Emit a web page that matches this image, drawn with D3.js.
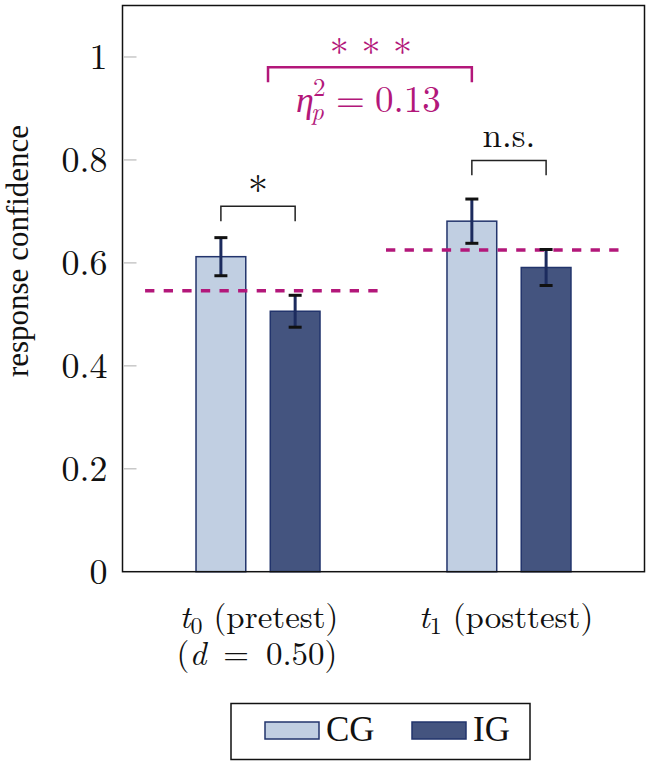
<!DOCTYPE html>
<html><head><meta charset="utf-8">
<script src="https://cdn.jsdelivr.net/npm/d3@7"></script>
<style>body{margin:0;background:#fff}svg{display:block}</style>
</head><body><svg id="c" width="650" height="766"></svg>
<script>
const groups = ["t0", "t1"];
const series = ["CG", "IG"];
const cgMeans = [0.612, 0.681];
const igMeans = [0.506, 0.591];
const cgErr = [0.037, 0.043];
const igErr = [0.031, 0.035];
const groupMeans = [0.546, 0.625];
const yTicks = [0, 0.2, 0.4, 0.6, 0.8, 1];

const colors = {CG: "#c1cfe2", IG: "#44547f"};
const strokeCol = "#22346c";
const magenta = "#b3177a";
const FF = "'Latin Modern Roman', 'CMU Serif', 'Liberation Serif', serif";
const FL = "'Liberation Serif', 'Times New Roman', serif";

const svg = d3.select("#c");
const L = 122.5, R = 644.5, T = 5.5, B = 571.7;
const y = d3.scaleLinear().domain([0, 1.1]).range([B, T]);
const x = d3.scalePoint().domain(groups).range([L, R]).padding(0.54);
const xs = d3.scaleBand().domain(series).range([-62, 62]).paddingInner(0.33);
const xNum = d3.scaleLinear().domain([0, 1]).range([x("t0"), x("t1")]);

function txt(sel, f) { return sel.append("text").style("font-family", f || FF).attr("fill", "#111"); }

// y ticks
const yAxis = d3.axisLeft(y).tickValues(yTicks).tickFormat(d => d === 0 ? "0" : d === 1 ? "1" : d3.format(".1f")(d)).tickSize(0).tickPadding(15);
const ga = svg.append("g").attr("transform", `translate(${L},0)`).call(yAxis);
ga.attr("font-family", null).attr("font-size", null);
ga.select(".domain").remove();
ga.selectAll("text").attr("font-size", 36).attr("fill", "#111").style("font-family", FF);
svg.selectAll(".gt").data(yTicks.filter(d => d > 0)).enter().append("line")
  .attr("x1", L + 1.5).attr("x2", L + 14).attr("y1", d => y(d)).attr("y2", d => y(d))
  .attr("stroke", "#c8c8c8").attr("stroke-width", 1.5);

// data rows
const rows = [];
groups.forEach((g, i) => {
  rows.push({g, s: "CG", v: cgMeans[i], e: cgErr[i]});
  rows.push({g, s: "IG", v: igMeans[i], e: igErr[i]});
});
const cx = r => x(r.g) + xs(r.s) + xs.bandwidth() / 2;

svg.selectAll(".bar").data(rows).enter().append("rect")
  .attr("x", r => x(r.g) + xs(r.s)).attr("width", xs.bandwidth())
  .attr("y", r => y(r.v)).attr("height", r => y(0) - y(r.v))
  .attr("fill", r => colors[r.s]).attr("stroke", strokeCol).attr("stroke-width", 1.5);

// dashed group means
const ext = [[-0.45, 0.48], [0.51, 1.45]];
groupMeans.forEach((m, i) => {
  svg.append("line").attr("x1", xNum(ext[i][0])).attr("x2", xNum(ext[i][1]))
    .attr("y1", y(m)).attr("y2", y(m)).attr("stroke", magenta).attr("stroke-width", 3.5)
    .attr("stroke-dasharray", "9.3 9.3");
});

// error bars
const eb = svg.selectAll(".eb").data(rows).enter().append("g");
eb.append("line").attr("x1", cx).attr("x2", cx).attr("y1", r => y(r.v + r.e)).attr("y2", r => y(r.v - r.e))
  .attr("stroke", "#1c2b5e").attr("stroke-width", 3);
[1, -1].forEach(sg => {
  eb.append("line").attr("x1", r => cx(r) - 6.5).attr("x2", r => cx(r) + 6.5)
    .attr("y1", r => y(r.v + sg * r.e)).attr("y2", r => y(r.v + sg * r.e))
    .attr("stroke", "#111").attr("stroke-width", 3);
});

// brackets
function bracket(x1, x2, yTop, yBot, col, w) {
  svg.append("path").attr("d", `M${x1},${y(yBot)}V${y(yTop)}H${x2}V${y(yBot)}`)
    .attr("fill", "none").attr("stroke", col).attr("stroke-width", w);
}
bracket(cx(rows[0]), cx(rows[1]), 0.710, 0.681, "#222", 1.5);
bracket(cx(rows[2]), cx(rows[3]), 0.799, 0.770, "#222", 1.5);
bracket(x("t0") + 10, cx(rows[2]), 0.980, 0.951, magenta, 2.5);

txt(svg).attr("x", (cx(rows[0]) + cx(rows[1])) / 2).attr("y", 205)
  .attr("text-anchor", "middle").attr("font-size", 40).text("*");
txt(svg).attr("x", (cx(rows[2]) + cx(rows[3])) / 2).attr("y", 147)
  .attr("text-anchor", "middle").attr("font-size", 35).text("n.s.");
const midStar = (x("t0") + 10 + cx(rows[2])) / 2;
txt(svg).attr("x", midStar + 1).attr("y", 66).attr("text-anchor", "middle")
  .attr("font-size", 38).attr("fill", magenta).text("* * *");
// eta_p^2 = 0.13
const etaY = 112;
txt(svg).attr("x", 296).attr("y", etaY).attr("font-size", 36).attr("font-style", "italic").attr("fill", magenta).text("η");
txt(svg).attr("x", 311).attr("y", etaY + 8).attr("font-size", 25).attr("font-style", "italic").attr("fill", magenta).text("p");
txt(svg).attr("x", 313).attr("y", etaY - 16).attr("font-size", 25).attr("fill", magenta).text("2");
txt(svg).attr("x", 336).attr("y", etaY).attr("font-size", 37).attr("fill", magenta).text("=");
txt(svg).attr("x", 375).attr("y", etaY).attr("font-size", 37).attr("fill", magenta).text("0.13");

// frame
svg.append("rect").attr("x", L).attr("y", T).attr("width", R - L).attr("height", B - T)
  .attr("fill", "none").attr("stroke", "#111").attr("stroke-width", 1.5);

// x labels
const xl = [["0", "(pretest)"], ["1", "(posttest)"]];
groups.forEach((g, i) => {
  const t = txt(svg).attr("x", x(g) + 1 - 4 * i).attr("y", 628).attr("text-anchor", "middle").attr("font-size", 33);
  t.append("tspan").attr("font-style", "italic").text("t");
  t.append("tspan").attr("font-size", 24).attr("dy", 6).text(xl[i][0]);
  t.append("tspan").attr("dy", -6).attr("dx", 11).text(xl[i][1]);
});
const d = txt(svg).attr("x", x("t0") - 1).attr("y", 665).attr("text-anchor", "middle")
  .attr("font-size", 33).attr("word-spacing", 6);
d.append("tspan").text("(");
d.append("tspan").attr("font-style", "italic").text("d");
d.append("tspan").text(" = 0.50)");

// y label
txt(svg, FL).attr("transform", "translate(28,251) rotate(-90)").attr("text-anchor", "middle")
  .attr("font-size", 31).text("response confidence");

// legend
svg.append("rect").attr("x", 231).attr("y", 703.5).attr("width", 299).attr("height", 56)
  .attr("fill", "#fff").attr("stroke", "#111").attr("stroke-width", 1.5);
const lx = d3.scaleOrdinal().domain(series).range([265, 412]);
series.forEach(s => {
  svg.append("rect").attr("x", lx(s)).attr("y", 722).attr("width", 54).attr("height", 17)
    .attr("fill", colors[s]).attr("stroke", strokeCol).attr("stroke-width", 1.5);
  txt(svg, FL).attr("x", lx(s) + 61).attr("y", 741).attr("font-size", 35).text(s);
});
</script></body></html>
